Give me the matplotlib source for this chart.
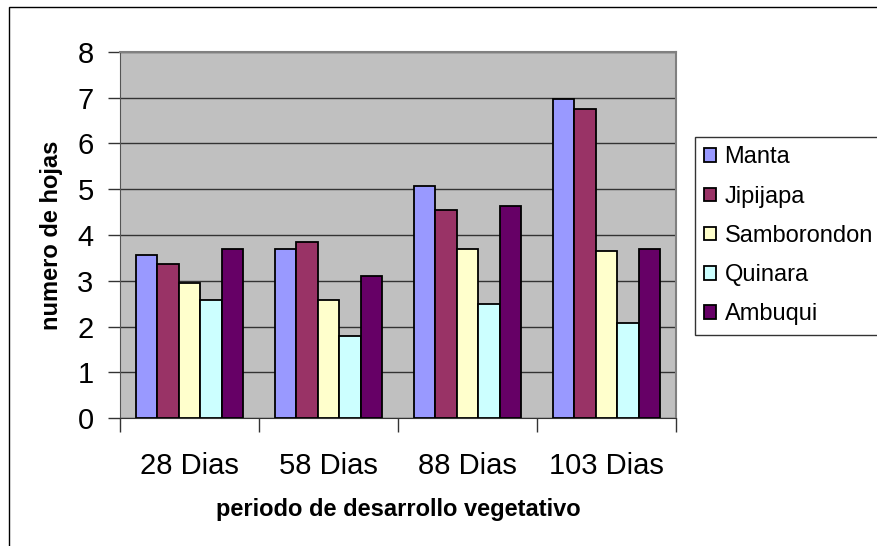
import numpy as np
import matplotlib.pyplot as plt
from matplotlib.patches import Rectangle

periodos = ['28 Dias', '58 Dias', '88 Dias', '103 Dias']
series = ['Manta', 'Jipijapa', 'Samborondon', 'Quinara', 'Ambuqui']
manta = [3.56, 3.69, 5.08, 6.97]
jipijapa = [3.36, 3.85, 4.55, 6.76]
samborondon = [2.95, 2.58, 3.69, 3.65]
quinara = [2.58, 1.80, 2.49, 2.09]
ambuqui = [3.69, 3.11, 4.64, 3.69]
colores = ['#9999FF', '#993366', '#FFFFCC', '#CCFFFF', '#660066']

plt.rcParams['font.family'] = ['Liberation Sans', 'DejaVu Sans']

fig = plt.figure(figsize=(8.77, 5.46), dpi=100)
ax = fig.add_axes([0.1368, 0.2339, 0.634, 0.6714])
ax.set_facecolor('#C0C0C0')

valores = [manta, jipijapa, samborondon, quinara, ambuqui]
x = np.arange(len(periodos))
w = 0.155
for i, (nombre, vals) in enumerate(zip(series, valores)):
    ax.bar(x + (i - 2) * w, vals, width=w, color=colores[i],
           edgecolor='black', linewidth=1.3, label=nombre, zorder=3)

ax.set_xlim(-0.5, len(periodos) - 0.5)
ax.set_ylim(0, 8)
ax.set_yticks(range(0, 9))
ax.yaxis.grid(True, color='#333333', linewidth=1, zorder=0)
ax.set_axisbelow(True)

ax.set_xticks(np.arange(-0.5, len(periodos)), [''] * (len(periodos) + 1))
ax.set_xticks(x, periodos, minor=True)
ax.tick_params(axis='x', which='major', length=10, width=1, color='#333333')
ax.tick_params(axis='x', which='minor', length=0, pad=24, labelsize=21)
ax.tick_params(axis='y', length=9, width=1, color='#333333', pad=10, labelsize=21)

for s in ['top', 'right']:
    ax.spines[s].set_color('#808080')
    ax.spines[s].set_linewidth(1.5)
ax.spines['left'].set_color('#555555')
ax.spines['bottom'].set_color('#333333')

ax.set_ylabel('numero de hojas', fontsize=17, fontweight='bold', labelpad=10)
ax.set_xlabel('periodo de desarrollo vegetativo', fontsize=17, fontweight='bold', labelpad=13)

leg = fig.legend(loc='upper left', bbox_to_anchor=(695 / 877, 1 - 137 / 546),
                 fontsize=17, frameon=True, fancybox=False, edgecolor='black',
                 handlelength=0.5, handleheight=0.5, handletextpad=0.35,
                 labelspacing=0.73, borderaxespad=0, borderpad=0.4)
leg.get_frame().set_linewidth(1)

fig.patches.append(Rectangle((9 / 877, -0.1), 1.2, 0.1 + 1 - 7 / 546,
                             transform=fig.transFigure, fill=False,
                             edgecolor='black', linewidth=1))

fig.savefig('out.png', dpi=100)
